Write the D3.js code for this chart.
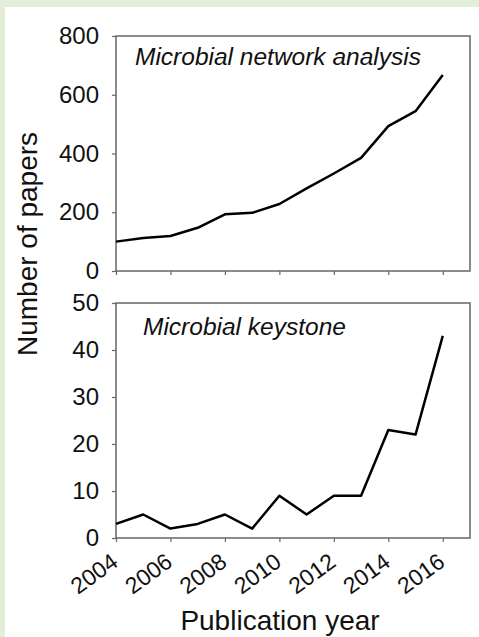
<!DOCTYPE html>
<html>
<head>
<meta charset="utf-8">
<script src="https://cdn.jsdelivr.net/npm/d3@7"></script>
<style>
  body { margin: 0; background: #e3eed9; }
  svg { display: block; }
</style>
</head>
<body>
<div id="chart"></div>
<script>
// publication years and paper counts
const years = [2004, 2005, 2006, 2007, 2008, 2009, 2010, 2011, 2012, 2013, 2014, 2015, 2016];
const networkPapers = [100, 112, 119, 147, 193, 198, 228, 281, 332, 385, 493, 544, 667];
const keystonePapers = [3, 5, 2, 3, 5, 2, 9, 5, 9, 9, 23, 22, 43];
const xTicks = [2004, 2006, 2008, 2010, 2012, 2014, 2016];
const topTicks = [0, 200, 400, 600, 800];
const bottomTicks = [0, 10, 20, 30, 40, 50];

const width = 479, height = 637;
const left = 116, right = 470;
const font = "'Liberation Sans', Arial, sans-serif";

const svg = d3.select("#chart")
  .append("svg")
    .attr("width", width)
    .attr("height", height);

// white paper area
svg.append("rect")
  .attr("x", 5).attr("y", 7)
  .attr("width", width - 5).attr("height", height - 7)
  .attr("fill", "#fff");

const x = d3.scaleLinear()
  .domain([2004, 2017])
  .range([left, right]);

function panel(values, yMax, ticks, top, bottom, title, titleX, titleY, showXLabels) {
  const y = d3.scaleLinear().domain([0, yMax]).range([bottom, top]);
  const g = svg.append("g");

  // frame
  g.append("rect")
    .attr("x", left).attr("y", top)
    .attr("width", right - left).attr("height", bottom - top)
    .attr("fill", "none")
    .attr("stroke", "#666")
    .attr("stroke-width", 1.5);

  // y axis
  const ya = g.append("g")
    .attr("transform", `translate(${left},0)`)
    .call(d3.axisLeft(y).tickValues(ticks).tickSize(4).tickPadding(13));
  ya.select(".domain").remove();
  ya.selectAll("line").attr("stroke", "#666").attr("stroke-width", 1.2);
  ya.selectAll("text")
    .style("font-family", font)
    .style("font-size", "24px")
    .attr("fill", "#111");

  // x axis
  const xa = g.append("g")
    .attr("transform", `translate(0,${bottom})`)
    .call(d3.axisBottom(x).tickValues(xTicks).tickSize(4).tickFormat(d3.format("d")));
  xa.select(".domain").remove();
  xa.selectAll("line").attr("stroke", "#666").attr("stroke-width", 1.2);
  if (showXLabels) {
    xa.selectAll("text")
      .style("font-family", font)
      .style("font-size", "23px")
      .attr("fill", "#111")
      .style("text-anchor", "end")
      .attr("y", 0)
      .attr("dy", 0)
      .attr("transform", "translate(3,27) rotate(-36)");
  } else {
    xa.selectAll("text").remove();
  }

  // data line
  const line = d3.line()
    .x((d, i) => x(years[i]))
    .y(d => y(d));
  g.append("path")
    .datum(values)
    .attr("d", line)
    .attr("fill", "none")
    .attr("stroke", "#000")
    .attr("stroke-width", 2.5)
    .attr("stroke-linejoin", "round");

  g.append("text")
    .attr("x", titleX).attr("y", titleY)
    .style("font-family", font)
    .style("font-style", "italic")
    .style("font-size", "24.5px")
    .attr("fill", "#111")
    .text(title);
}

panel(networkPapers, 800, topTicks, 36, 271, "Microbial network analysis", 135, 65, false);
panel(keystonePapers, 50, bottomTicks, 303, 538, "Microbial keystone", 143, 335, true);

// axis titles
svg.append("text")
  .attr("transform", "translate(37,244) rotate(-90)")
  .attr("text-anchor", "middle")
  .style("font-family", font)
  .style("font-size", "28px")
  .attr("fill", "#111")
  .text("Number of papers");

svg.append("text")
  .attr("x", 280).attr("y", 630)
  .attr("text-anchor", "middle")
  .style("font-family", font)
  .style("font-size", "28px")
  .attr("fill", "#111")
  .text("Publication year");
</script>
</body>
</html>
